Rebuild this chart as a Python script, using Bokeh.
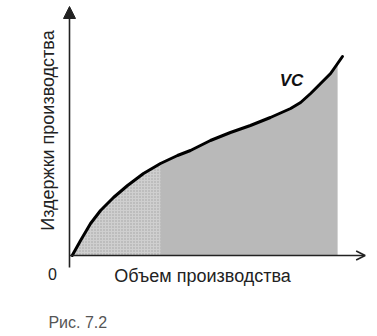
from bokeh.plotting import figure
from bokeh.models import Range1d, Arrow, NormalHead, OpenHead, Label
from bokeh.embed import file_html
from bokeh.resources import INLINE
import math

# Data: output quantity (Q) and variable cost (VC), arbitrary units
quantity = [0.10, 0.41, 0.78, 1.15, 1.63, 2.15, 2.74, 3.37, 4.0, 4.48, 5.22, 5.96,
            6.7, 7.44, 8.19, 8.56, 8.93, 9.30, 9.67, 9.93, 10.11]
var_cost = [0.0, 0.75, 1.6, 2.25, 2.9, 3.5, 4.1, 4.6, 5.0, 5.25, 5.75, 6.15,
            6.5, 6.9, 7.35, 7.65, 8.1, 8.6, 9.1, 9.6, 9.95]
curve_label = "VC"
x_title = "Объем производства"
y_title = "Издержки производства"
caption = "Рис. 7.2"

W, H = 377, 336
ox, oy = 69, 255
sx, sy = 27.0, 20.0

p = figure(width=W, height=H, output_backend="svg", toolbar_location=None,
           x_range=Range1d(-ox / sx, (W - ox) / sx),
           y_range=Range1d(-(H - oy) / sy, oy / sy),
           min_border=0)
p.xaxis.visible = False
p.yaxis.visible = False
p.grid.visible = False
p.outline_line_color = None
p.background_fill_color = "white"
p.border_fill_color = "white"

# shaded area under the curve
fill_q = quantity[:-1]
fill_v = var_cost[:-1]
p.varea(x=fill_q, y1=[0] * len(fill_q), y2=fill_v, fill_color="#b9b9b9", fill_alpha=1.0)
# lighter stippled band near origin
n_left = 8
p.varea(x=quantity[:n_left], y1=[0] * n_left, y2=var_cost[:n_left], fill_color="#cfcfcf",
        fill_alpha=1.0, hatch_pattern="dot", hatch_color="#8f8f8f", hatch_scale=3,
        hatch_alpha=0.7)

# curve
p.line(quantity, var_cost, line_color="black", line_width=3, line_join="round",
       line_cap="round")

# axes with arrows
p.add_layout(Arrow(end=NormalHead(size=12, fill_color="#222222", line_color="#222222"),
                   x_start=0, y_start=-0.6, x_end=0, y_end=12.45,
                   line_color="#222222", line_width=1.6))
p.add_layout(Arrow(end=OpenHead(size=9, line_color="#222222", line_width=1.6),
                   x_start=0, y_start=0, x_end=10.95, y_end=0,
                   line_color="#222222", line_width=1.6))

font = "Liberation Sans"
p.add_layout(Label(x=-0.63, y=-0.9, text="0", text_font=font, text_font_size="16px",
                   text_align="center", text_baseline="middle", text_color="#222222"))
p.add_layout(Label(x=4.93, y=-1.0, text=x_title, text_font=font, text_font_size="18px",
                   text_align="center", text_baseline="middle", text_color="#222222"))
p.add_layout(Label(x=-0.81, y=6.25, text=y_title, text_font=font, text_font_size="18px",
                   text_align="center", text_baseline="middle", angle=math.pi / 2,
                   text_color="#222222"))
p.add_layout(Label(x=8.22, y=8.75, text=curve_label, text_font=font, text_font_size="17px",
                   text_font_style="bold italic", text_align="center", text_baseline="middle",
                   text_color="#111111"))
p.add_layout(Label(x=-0.78, y=-3.35, text=caption, text_font=font, text_font_size="16px",
                   text_align="left", text_baseline="middle", text_color="#555555"))

open("out.html", "w").write(file_html(p, INLINE))
